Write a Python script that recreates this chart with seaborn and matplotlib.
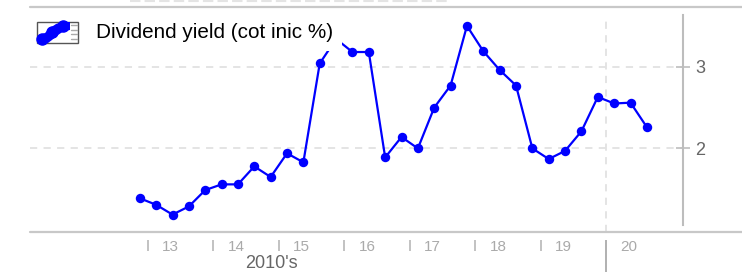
import pandas as pd
import matplotlib.pyplot as plt
import seaborn as sns
from matplotlib.lines import Line2D
from matplotlib.patches import Rectangle, Polygon

# quarterly dividend yield (%)
quarters = ['2012Q4',
            '2013Q1', '2013Q2', '2013Q3', '2013Q4',
            '2014Q1', '2014Q2', '2014Q3', '2014Q4',
            '2015Q1', '2015Q2', '2015Q3', '2015Q4',
            '2016Q1', '2016Q2', '2016Q3', '2016Q4',
            '2017Q1', '2017Q2', '2017Q3', '2017Q4',
            '2018Q1', '2018Q2', '2018Q3', '2018Q4',
            '2019Q1', '2019Q2', '2019Q3', '2019Q4',
            '2020Q1', '2020Q2', '2020Q3']
dividend_yield = [1.39,
                  1.31, 1.19, 1.29, 1.49,
                  1.56, 1.56, 1.78, 1.65,
                  1.94, 1.83, 3.04, 3.34,
                  3.18, 3.18, 1.89, 2.14,
                  2.00, 2.50, 2.77, 3.50,
                  3.19, 2.96, 2.77, 2.00,
                  1.87, 1.97, 2.21, 2.63,
                  2.55, 2.56, 2.26]
label_years = [2013, 2014, 2015, 2016, 2017, 2018, 2019, 2020]
year_labels = ['13', '14', '15', '16', '17', '18', '19', '20']
decade_label = "2010's"
series_name = 'Dividend yield (cot inic %)'

W, H = 742, 272


def fx(x):
    return x / W


def fy(y):
    return 1 - y / H


p = pd.PeriodIndex(quarters, freq='Q')
df = pd.DataFrame({'x': p.year + (p.quarter - 0.5) / 4, 'value': dividend_yield})

sns.set_style('white')
plt.rcParams['font.family'] = ['Liberation Sans', 'DejaVu Sans']

fig = plt.figure(figsize=(W / 100, H / 100), dpi=100)
ax = fig.add_axes([fx(30), 40 / H, 653 / W, 225 / H])

sns.lineplot(x='x', y='value', data=df, ax=ax, color='#0000ff', linewidth=1.6,
             marker='o', markersize=6.8, markeredgewidth=0, zorder=3)

ax.set_xlim(2011.197, 2021.177)
ax.set_ylim(0.977, 3.731)
ax.set_xlabel('')
ax.set_ylabel('')

# grid
grid_style = dict(color='#e2e2e2', linestyle=(0, (4, 3.5)), linewidth=1.3)
ax.set_yticks([2, 3])
ax.yaxis.grid(True, **grid_style)
ax.axvline(2020, ymax=0.96, **grid_style, zorder=1)
ax.set_axisbelow(True)

for s in ['top', 'left', 'bottom']:
    ax.spines[s].set_visible(False)
ax.spines['right'].set_color('#bdbdbd')
ax.spines['right'].set_linewidth(1.5)
ax.spines['right'].set_bounds(1.06, 3.63)

ax.yaxis.tick_right()
ax.tick_params(axis='y', direction='inout', length=10, width=1.2, color='#bdbdbd',
               labelcolor='#666666', labelsize=13, pad=4)

ax.set_xticks([y + 0.35 for y in label_years])
ax.set_xticklabels(year_labels)
ax.tick_params(axis='x', length=0, labelcolor='#aaaaaa', labelsize=11, pad=6)

# year separators below the axis
trans = ax.get_xaxis_transform()
ax.vlines(label_years[:-1], -0.036, -0.084, transform=trans, colors='#bdbdbd',
          linewidth=1.3, clip_on=False)
ax.vlines(label_years[-1:], -0.036, -0.18, transform=trans, colors='#aaaaaa',
          linewidth=1.3, clip_on=False)

fig.text(fx(271), fy(255), decade_label, ha='center', va='top', color='#666666', fontsize=13)

# frame lines
fig.add_artist(Line2D([fx(30), 1], [fy(232), fy(232)], color='#c8c8c8', linewidth=1.6))
fig.add_artist(Line2D([fx(30), 1], [fy(7), fy(7)], color='#c8c8c8', linewidth=1.6))
fig.add_artist(Line2D([fx(130), fx(450)], [fy(1), fy(1)], color='#e4e4e4', linewidth=1.5,
                      linestyle=(0, (5, 2))))

# legend
fig.add_artist(Rectangle((fx(30), fy(50.5)), fx(312), 39 / H, transform=fig.transFigure,
                         facecolor='white', edgecolor='none', zorder=5))
fig.add_artist(Rectangle((fx(37), fy(43)), fx(41), 21 / H, transform=fig.transFigure,
                         facecolor='white', edgecolor='#555555', linewidth=1, zorder=6))
icon = [(38, 43), (38, 36), (45, 33), (50, 28), (56, 24), (62, 22), (70, 22),
        (70, 30), (64, 31), (58, 35), (52, 40), (48, 43)]
fig.add_artist(Polygon([(fx(a), fy(b)) for a, b in icon], closed=True,
                       transform=fig.transFigure, facecolor='#0000ff', edgecolor='none', zorder=7))
fig.add_artist(Line2D([fx(41.5), fx(52), fx(63)], [fy(38.5), fy(32), fy(26)], color='#0000ff',
                      marker='o', markersize=8, linewidth=0, zorder=8))
for yy in [25, 29.5, 34, 38.5]:
    fig.add_artist(Line2D([fx(71), fx(77)], [fy(yy), fy(yy)], color='#aaaaaa',
                          linewidth=1, zorder=8))
fig.text(fx(96), fy(33), series_name, va='center', ha='left', fontsize=14.9,
         color='black', zorder=9)

fig.savefig('out.png', dpi=100)
